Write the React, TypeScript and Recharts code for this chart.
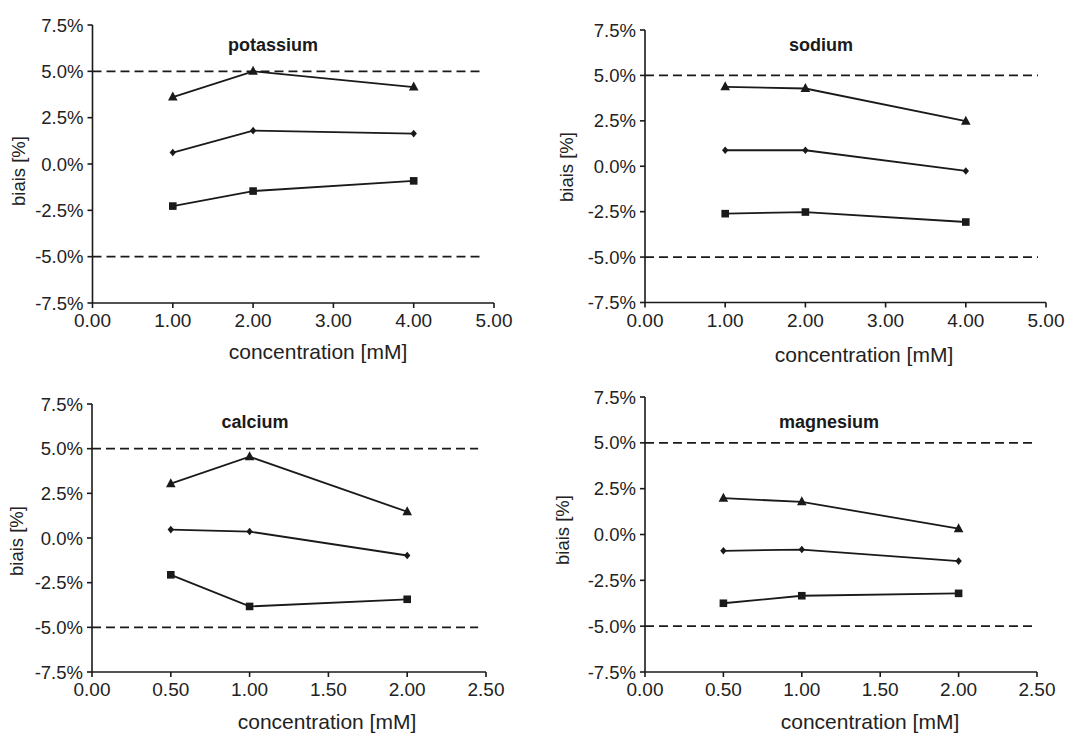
import React from 'react';
import { LineChart, Line, XAxis, YAxis, ReferenceLine } from 'recharts';

// ---------- data ----------
const potassiumConc = [1, 2, 4];
const potassiumUpper = [3.61, 5.0, 4.15];
const potassiumMean = [0.62, 1.8, 1.64];
const potassiumLower = [-2.27, -1.46, -0.91];

const sodiumConc = [1, 2, 4];
const sodiumUpper = [4.37, 4.28, 2.48];
const sodiumMean = [0.88, 0.88, -0.26];
const sodiumLower = [-2.61, -2.52, -3.07];

const calciumConc = [0.5, 1, 2];
const calciumUpper = [3.04, 4.55, 1.47];
const calciumMean = [0.47, 0.36, -0.98];
const calciumLower = [-2.06, -3.83, -3.43];

const magnesiumConc = [0.5, 1, 2];
const magnesiumUpper = [1.98, 1.78, 0.32];
const magnesiumMean = [-0.89, -0.82, -1.45];
const magnesiumLower = [-3.75, -3.34, -3.21];

const yTicks = [-7.5, -5, -2.5, 0, 2.5, 5, 7.5];
const xTicksWide = [0, 1, 2, 3, 4, 5];
const xTicksNarrow = [0, 0.5, 1, 1.5, 2, 2.5];
const limitValues = [5, -5];

const yLabel = 'biais [%]';
const xLabel = 'concentration [mM]';

function rows(conc: number[], up: number[], mid: number[], low: number[]) {
  return conc.map((x, i) => ({ x, up: up[i], mid: mid[i], low: low[i] }));
}

const FONT = '"Liberation Sans", Arial, sans-serif';
const INK = '#1a1a1a';
const TEXT = '#222';

const TriDot = (p: any) => {
  const { cx, cy } = p;
  if (cx == null || cy == null) return null;
  return <polygon points={`${cx},${cy - 5.5} ${cx - 4.8},${cy + 3.5} ${cx + 4.8},${cy + 3.5}`} fill={INK} />;
};
const DiaDot = (p: any) => {
  const { cx, cy } = p;
  if (cx == null || cy == null) return null;
  return <polygon points={`${cx},${cy - 3.8} ${cx + 3.2},${cy} ${cx},${cy + 3.8} ${cx - 3.2},${cy}`} fill={INK} />;
};
const SqDot = (p: any) => {
  const { cx, cy } = p;
  if (cx == null || cy == null) return null;
  return <rect x={cx - 3.8} y={cy - 3.8} width={7.6} height={7.6} fill={INK} />;
};

const XTick = (p: any) => (
  <text x={p.x} y={p.y} dy={16} textAnchor="middle" fontSize={19} fontFamily={FONT} fill={TEXT}>
    {Number(p.payload.value).toFixed(2)}
  </text>
);
const YTick = (p: any) => (
  <text x={p.x} y={p.y} dy={6.5} textAnchor="end" fontSize={18.5} fontFamily={FONT} fill={TEXT}>
    {Number(p.payload.value).toFixed(1) + '%'}
  </text>
);

type PanelProps = {
  left: number; top: number; width: number; height: number;
  margin: { top: number; right: number; bottom: number; left: number };
  data: any[]; xMax: number; xTicks: number[]; dashEnd: number;
  title: string; titleX: number; titleY: number;
  yLabX: number; yLabY: number; xLabX: number; xLabY: number;
};

function Panel(props: PanelProps) {
  const { left, top, width, height, margin, data, xMax, xTicks, dashEnd } = props;
  return (
    <>
      <div style={{ position: 'absolute', left, top, width, height }}>
        <LineChart width={width} height={height} data={data} margin={margin}>
          <XAxis
            type="number"
            dataKey="x"
            domain={[0, xMax]}
            ticks={xTicks}
            interval={0}
            tick={(p: any) => <XTick key={'x' + p.index} {...p} />}
            tickSize={5}
            tickMargin={3}
            height={30}
            axisLine={{ stroke: INK, strokeWidth: 1.6 }}
            tickLine={{ stroke: INK, strokeWidth: 1.6 }}
            allowDataOverflow
          />
          <YAxis
            type="number"
            domain={[-7.5, 7.5]}
            ticks={yTicks}
            interval={0}
            tick={(p: any) => <YTick key={'y' + p.index} {...p} />}
            tickSize={5}
            tickMargin={4}
            width={60}
            axisLine={{ stroke: INK, strokeWidth: 1.6 }}
            tickLine={{ stroke: INK, strokeWidth: 1.6 }}
            allowDataOverflow
          />
          {limitValues.map((v) => (
            <ReferenceLine
              key={v}
              segment={[{ x: 0, y: v }, { x: dashEnd, y: v }]}
              stroke={INK}
              strokeWidth={1.6}
              strokeDasharray="9 5"
              ifOverflow="visible"
            />
          ))}
          <Line dataKey="up" stroke={INK} strokeWidth={1.8} isAnimationActive={false} dot={(p: any) => <TriDot key={'t' + p.index} {...p} />} activeDot={false} />
          <Line dataKey="mid" stroke={INK} strokeWidth={1.8} isAnimationActive={false} dot={(p: any) => <DiaDot key={'d' + p.index} {...p} />} activeDot={false} />
          <Line dataKey="low" stroke={INK} strokeWidth={1.8} isAnimationActive={false} dot={(p: any) => <SqDot key={'s' + p.index} {...p} />} activeDot={false} />
        </LineChart>
      </div>
      <div style={{ position: 'absolute', left: props.titleX - 100, top: props.titleY - 11, width: 200, textAlign: 'center', fontFamily: FONT, fontWeight: 'bold', fontSize: 18, lineHeight: '22px', color: INK }}>
        {props.title}
      </div>
      <div style={{ position: 'absolute', left: props.xLabX - 150, top: props.xLabY - 13, width: 300, textAlign: 'center', fontFamily: FONT, fontSize: 21, lineHeight: '26px', color: TEXT }}>
        {xLabel}
      </div>
      <div style={{ position: 'absolute', left: props.yLabX - 60, top: props.yLabY - 11, width: 120, textAlign: 'center', fontFamily: FONT, fontSize: 18.5, lineHeight: '22px', color: TEXT, transform: 'rotate(-90deg)', transformOrigin: '50% 50%' }}>
        {yLabel}
      </div>
    </>
  );
}

export default function App() {
  return (
    <div style={{ position: 'absolute', left: 0, top: 0, width: 1068, height: 735, background: '#fff', overflow: 'hidden' }}>
      <Panel
        left={0} top={0} width={534} height={367}
        margin={{ top: 25, right: 40, bottom: 34, left: 32.5 }}
        data={rows(potassiumConc, potassiumUpper, potassiumMean, potassiumLower)}
        xMax={5} xTicks={xTicksWide} dashEnd={4.88}
        title="potassium" titleX={273} titleY={45}
        yLabX={19} yLabY={171} xLabX={318} xLabY={352}
      />
      <Panel
        left={534} top={0} width={534} height={367}
        margin={{ top: 30, right: 22, bottom: 34.5, left: 51 }}
        data={rows(sodiumConc, sodiumUpper, sodiumMean, sodiumLower)}
        xMax={5} xTicks={xTicksWide} dashEnd={4.9}
        title="sodium" titleX={821} titleY={45}
        yLabX={567} yLabY={167} xLabX={864} xLabY={355}
      />
      <Panel
        left={0} top={367} width={534} height={368}
        margin={{ top: 37, right: 48, bottom: 33, left: 32 }}
        data={rows(calciumConc, calciumUpper, calciumMean, calciumLower)}
        xMax={2.5} xTicks={xTicksNarrow} dashEnd={2.45}
        title="calcium" titleX={255} titleY={422}
        yLabX={17} yLabY={541} xLabX={327} xLabY={722}
      />
      <Panel
        left={534} top={367} width={534} height={368}
        margin={{ top: 30, right: 31, bottom: 33, left: 51 }}
        data={rows(magnesiumConc, magnesiumUpper, magnesiumMean, magnesiumLower)}
        xMax={2.5} xTicks={xTicksNarrow} dashEnd={2.5}
        title="magnesium" titleX={829} titleY={422}
        yLabX={563} yLabY={530} xLabX={870} xLabY={722}
      />
    </div>
  );
}
